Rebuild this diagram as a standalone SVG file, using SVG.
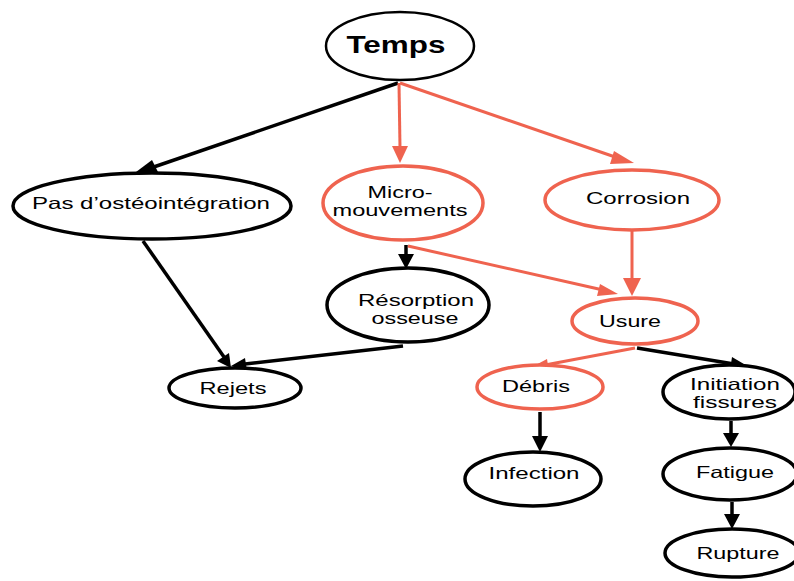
<svg xmlns="http://www.w3.org/2000/svg" width="794" height="581" viewBox="0 0 794 581">
<style>
.n{fill:#fff;stroke:#000;stroke-width:3.5}
.r{stroke:#ef634f}
text{font-family:"Liberation Sans",Arial,sans-serif;font-size:16.5px;text-anchor:middle;fill:#000}
.e{fill:none;stroke:#000;stroke-width:3.5}
.er{fill:none;stroke:#ef634f;stroke-width:3}
</style>
<rect width="794" height="581" fill="#fff"/>
<g id="connectors">
<path class="e" d="M398,83 L145,170"/>
<polygon points="132,175 152,160 158,172" fill="#000"/>
<path class="er" d="M399,83 L400,148"/>
<polygon points="392,146 408,146 400,163" fill="#ef634f"/>
<path class="er" d="M400,83 L618,158"/>
<polygon points="614,151 610,164 634,163" fill="#ef634f"/>
<path class="e" d="M143,241 L224,357"/>
<polygon points="231,368 217,361 229,353" fill="#000"/>
<path class="e" d="M403,346 L245,364"/>
<polygon points="231,366 245,358 247,371" fill="#000"/>
<path class="e" d="M406,245 L406,256"/>
<polygon points="398,254 414,254 406,269" fill="#000"/>
<path class="er" d="M408,246 L603,290"/>
<polygon points="618,294 600,284 597,296" fill="#ef634f"/>
<path class="er" d="M632,231 L632,280"/>
<polygon points="623,278 641,278 632,296" fill="#ef634f"/>
<path class="er" d="M635,348 L545,365"/>
<polygon points="530,368 547,359 549,371" fill="#ef634f"/>
<path class="e" d="M637,348 L734,364"/>
<polygon points="749,367 732,357 730,370" fill="#000"/>
<path class="e" d="M540,412 L540,437"/>
<polygon points="532,436 548,436 540,452" fill="#000"/>
<path class="e" d="M731,421 L731,434"/>
<polygon points="723,433 739,433 731,447" fill="#000"/>
<path class="e" d="M732,502 L732,515"/>
<polygon points="724,514 740,514 732,529" fill="#000"/>
</g>
<g id="temps"><ellipse class="n" cx="400" cy="46" rx="74" ry="34" style="stroke-width:2.5"/><text x="396" y="53" textLength="99" lengthAdjust="spacingAndGlyphs" style="font-size:24px;font-weight:bold">Temps</text></g>
<g id="pas"><ellipse class="n" cx="152" cy="206" rx="139" ry="33"/><text x="151" y="209" textLength="238" lengthAdjust="spacingAndGlyphs">Pas d’ostéointégration</text></g>
<g id="micro"><ellipse class="n r" cx="403" cy="203" rx="80" ry="37"/><text x="400" y="197.5" textLength="65" lengthAdjust="spacingAndGlyphs">Micro-</text><text x="400" y="215.5" textLength="135" lengthAdjust="spacingAndGlyphs">mouvements</text></g>
<g id="corrosion"><ellipse class="n r" cx="632" cy="200" rx="87" ry="30"/><text x="638" y="204" textLength="104" lengthAdjust="spacingAndGlyphs">Corrosion</text></g>
<g id="resorption"><ellipse class="n" cx="408" cy="305" rx="81" ry="37"/><text x="416" y="305.5" textLength="116" lengthAdjust="spacingAndGlyphs">Résorption</text><text x="415" y="323.5" textLength="87" lengthAdjust="spacingAndGlyphs">osseuse</text></g>
<g id="rejets"><ellipse class="n" cx="235" cy="388" rx="66" ry="20"/><text x="233" y="394" textLength="67" lengthAdjust="spacingAndGlyphs">Rejets</text></g>
<g id="usure"><ellipse class="n r" cx="635" cy="321" rx="63" ry="23"/><text x="630" y="327" textLength="62" lengthAdjust="spacingAndGlyphs">Usure</text></g>
<g id="debris"><ellipse class="n r" cx="540" cy="387" rx="63" ry="22"/><text x="536" y="392" textLength="68" lengthAdjust="spacingAndGlyphs">Débris</text></g>
<g id="initiation"><ellipse class="n" cx="729" cy="392" rx="66" ry="27"/><text x="735" y="389.5" textLength="90" lengthAdjust="spacingAndGlyphs">Initiation</text><text x="735" y="407.5" textLength="84" lengthAdjust="spacingAndGlyphs">fissures</text></g>
<g id="infection"><ellipse class="n" cx="533" cy="479" rx="68" ry="27"/><text x="534" y="479" textLength="91" lengthAdjust="spacingAndGlyphs">Infection</text></g>
<g id="fatigue"><ellipse class="n" cx="730" cy="474" rx="67" ry="26"/><text x="735" y="478" textLength="78" lengthAdjust="spacingAndGlyphs">Fatigue</text></g>
<g id="rupture"><ellipse class="n" cx="732" cy="553" rx="67" ry="24"/><text x="738" y="559" textLength="83" lengthAdjust="spacingAndGlyphs">Rupture</text></g>
</svg>
